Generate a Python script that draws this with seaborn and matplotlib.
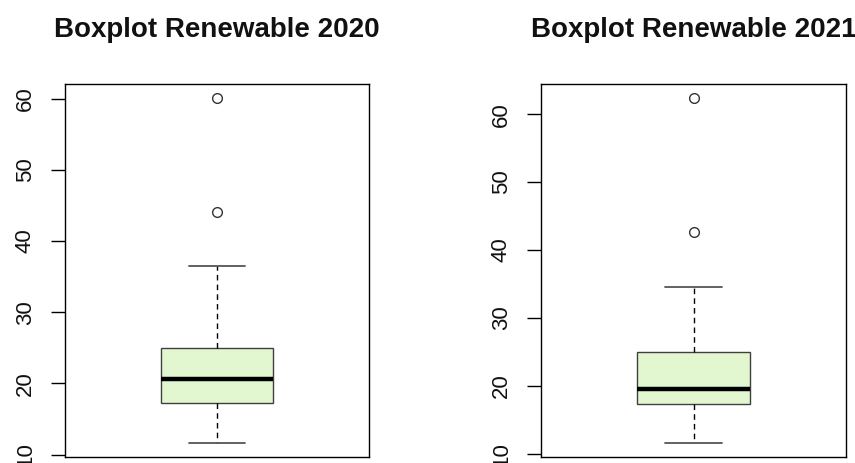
import matplotlib
matplotlib.use("Agg")
import matplotlib.pyplot as plt
import seaborn as sns
import pandas as pd

sns.set_style("white")
plt.rcParams["font.family"] = ["Liberation Sans", "DejaVu Sans"]

# Renewable share samples per year (values sorted, two high outliers each)
renew_2020 = [11.6, 17.2, 17.2, 17.2, 20.65, 20.65, 20.65, 25.0, 25.0, 25.0, 36.5, 44.0, 60.1]
renew_2021 = [11.6, 17.4, 17.4, 17.4, 19.5, 19.5, 19.5, 24.95, 24.95, 24.95, 34.6, 42.7, 62.4]
titles = ["Boxplot Renewable 2020", "Boxplot Renewable 2021"]
y_ticks = [10, 20, 30, 40, 50, 60]

fill = "#E2F6D0"
edge = "#404040"

W, H = 855, 463
fig = plt.figure(figsize=(W / 100, H / 100), dpi=100)

panels = [
    (renew_2020, titles[0], 65, 304),
    (renew_2021, titles[1], 541, 305),
]

for values, title, left_px, width_px in panels:
    ax = fig.add_axes([left_px / W, 6 / H, width_px / W, 373 / H])
    df = pd.DataFrame({"x": 0, "value": values})
    sns.boxplot(
        data=df, x="x", y="value", ax=ax, width=0.37, color=fill,
        linecolor=edge, linewidth=1.0, whis=1.5, native_scale=False,
        boxprops=dict(facecolor=fill, edgecolor=edge, linewidth=1.0),
        whiskerprops=dict(color="black", linestyle=(0, (4, 3)), linewidth=1.0),
        capprops=dict(color="#555555", linewidth=1.3),
        medianprops=dict(color="black", linewidth=3.2),
        flierprops=dict(marker="o", markersize=7, markerfacecolor="white",
                        markeredgecolor="#333333", markeredgewidth=1.0),
    )
    lo, hi = min(values), max(values)
    ext = (hi - lo) * 0.04
    ax.set_ylim(lo - ext, hi + ext)
    ax.set_xlim(-0.5, 0.5)
    ax.set_xticks([])
    ax.set_xlabel("")
    ax.set_ylabel("")
    ax.set_yticks(y_ticks)
    ax.set_yticklabels([str(t) for t in y_ticks])
    ax.tick_params(axis="y", left=True, length=10, width=1.0, pad=11,
                   labelsize=16, labelrotation=90, color="black",
                   labelcolor="#111111")
    for lab in ax.get_yticklabels():
        lab.set_verticalalignment("center")
    for s in ax.spines.values():
        s.set_visible(True)
        s.set_color("black")
        s.set_linewidth(1.0)
    cx = (left_px + width_px / 2) / W
    fig.text(cx, 1 - 30 / H, title, ha="center", va="center",
             fontsize=20, fontweight="bold", color="#111111")

fig.savefig("out.png", dpi=100, facecolor="white")
